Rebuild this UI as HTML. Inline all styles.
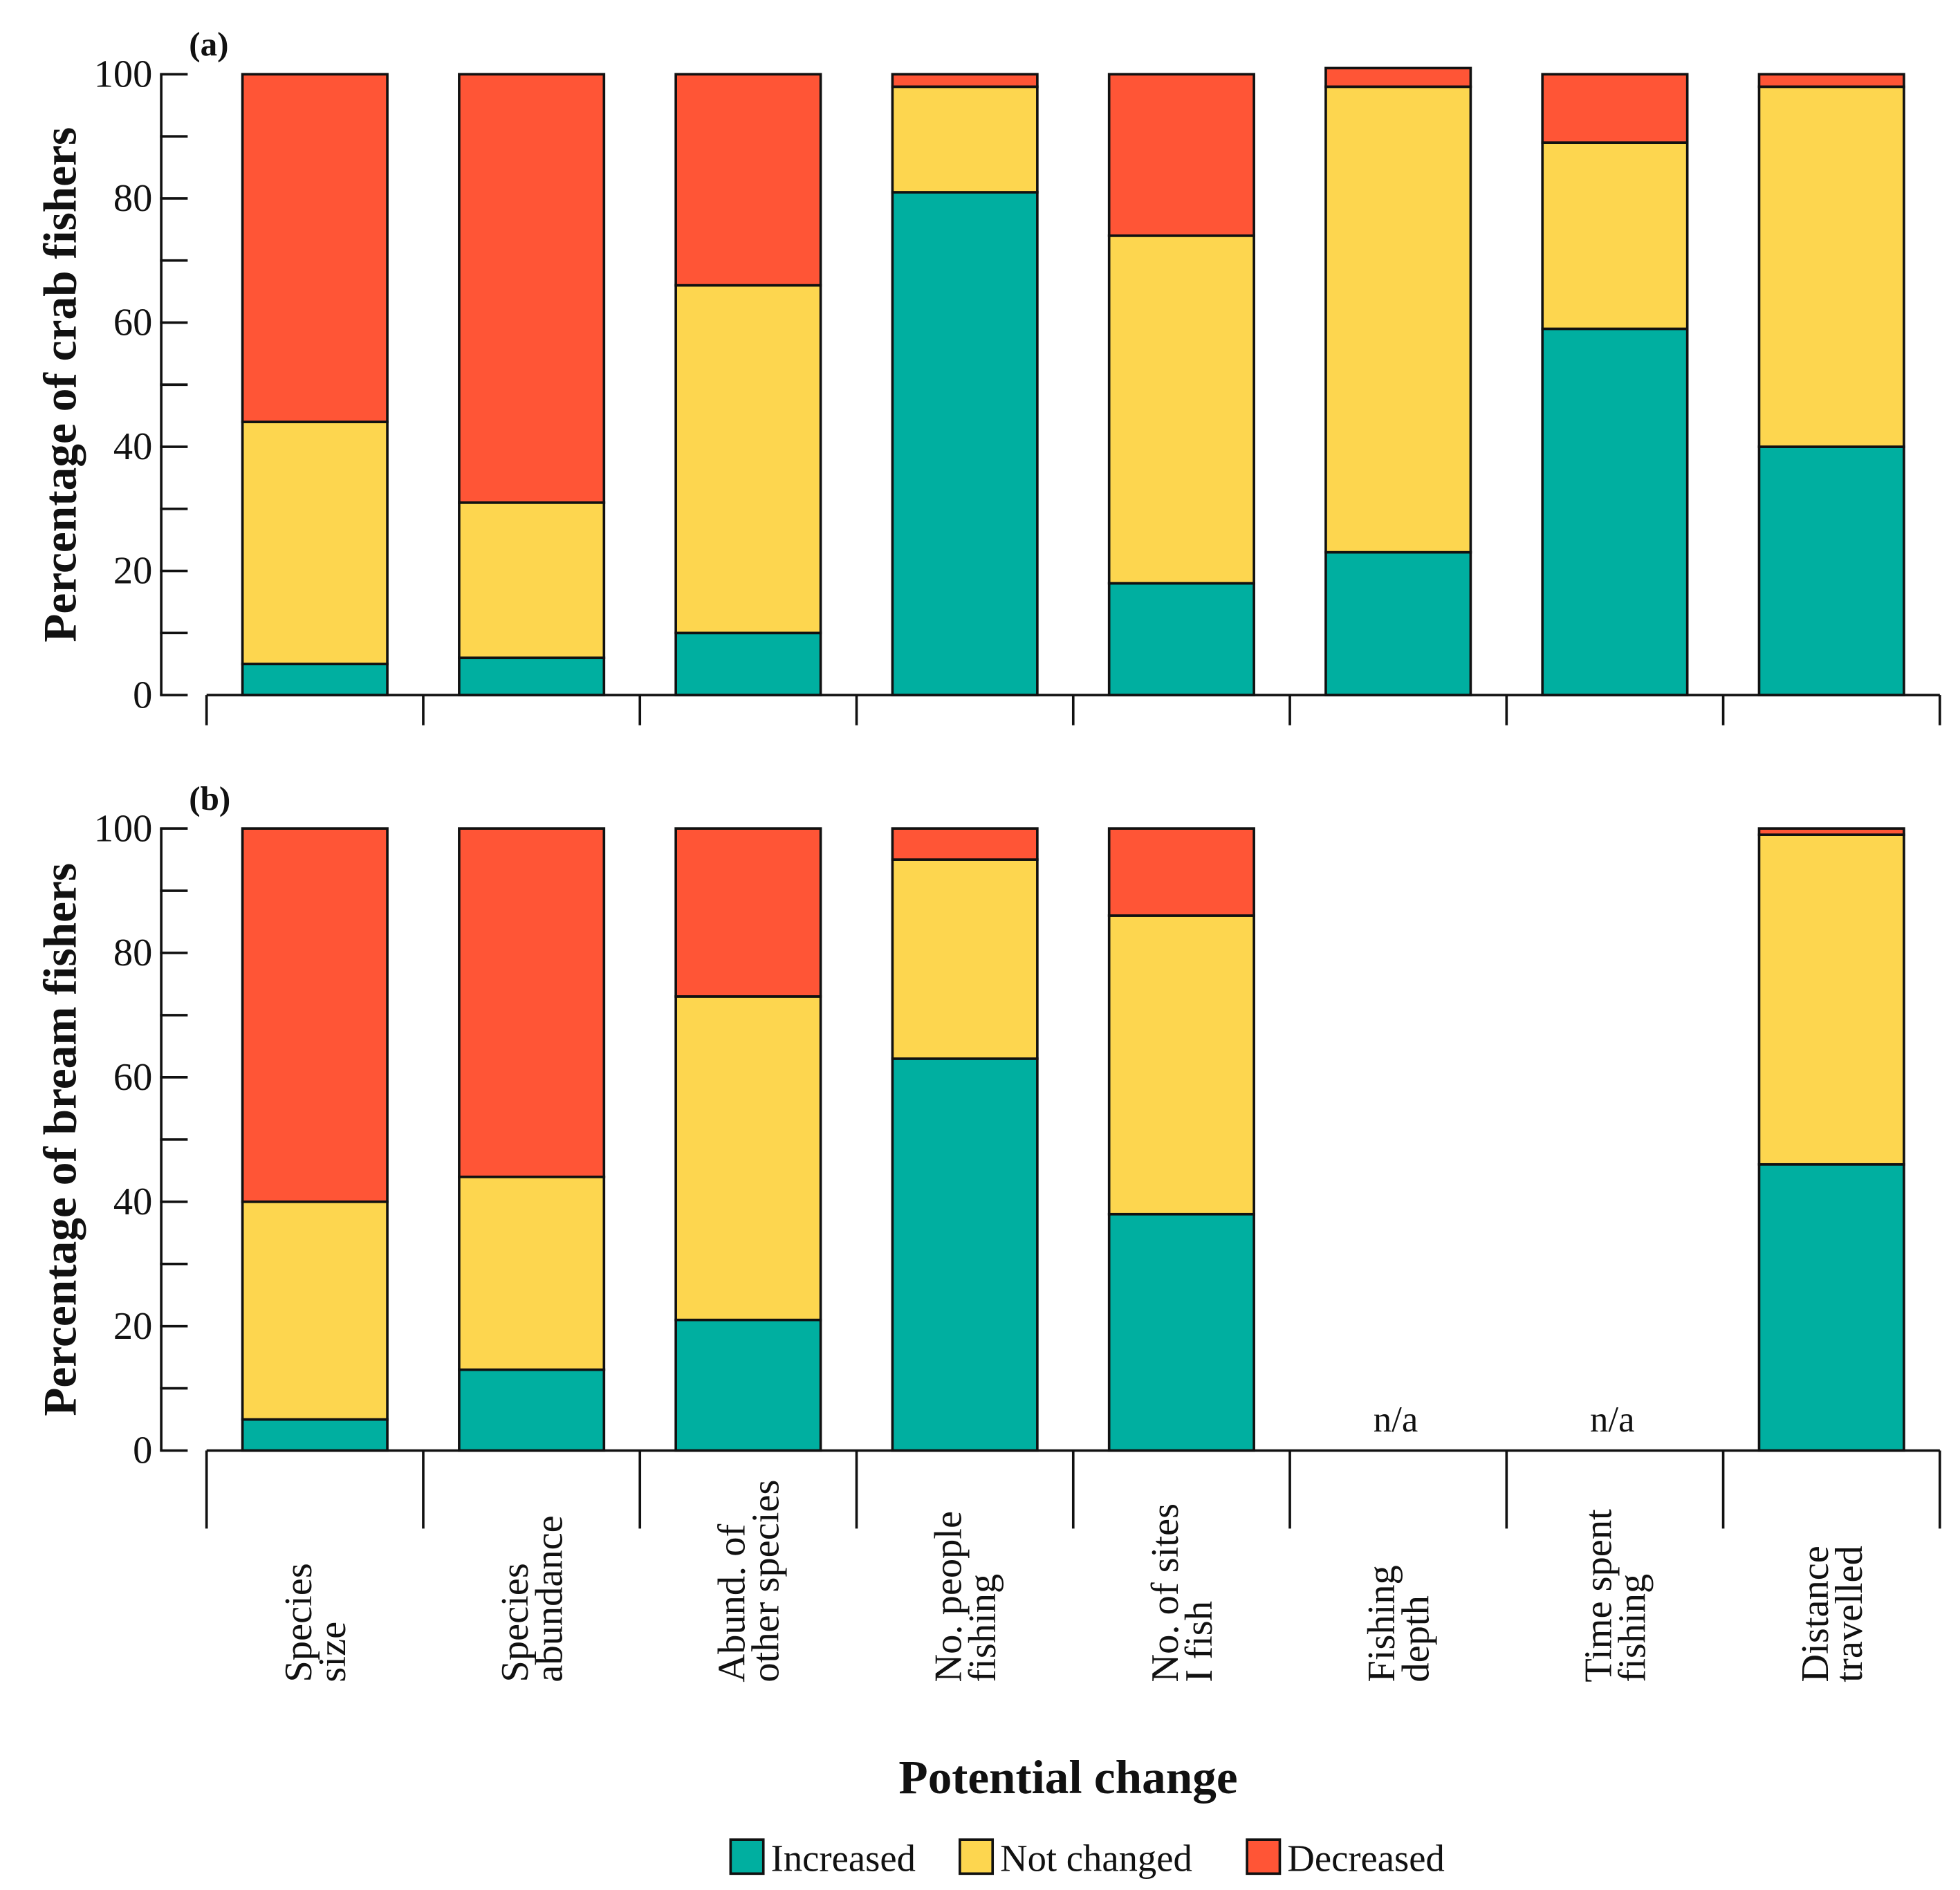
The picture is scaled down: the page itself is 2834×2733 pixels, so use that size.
<!DOCTYPE html>
<html><head><meta charset="utf-8"><style>
html,body{margin:0;padding:0;background:#fff}
svg{display:block}
text{font-family:"Liberation Serif",serif;fill:#111}
</style></head><body>
<svg id="chart" width="2834" height="2733" viewBox="0 0 1556 1501" preserveAspectRatio="none" xmlns="http://www.w3.org/2000/svg"></svg>
<script>
const categories = [["Species","size"],["Species","abundance"],["Abund. of","other species"],["No. people","fishing"],["No. of sites","I fish"],["Fishing","depth"],["Time spent","fishing"],["Distance","travelled"]];
const crabIncreased = [5,6,10,81,18,23,59,40];
const crabNotChanged = [39,25,56,17,56,75,30,58];
const crabDecreased = [56,69,34,2,26,3,11,2];
const breamIncreased = [5,13,21,63,38,null,null,46];
const breamNotChanged = [35,31,52,32,48,null,null,53];
const breamDecreased = [60,56,27,5,14,null,null,1];
const yTicks = [0,20,40,60,80,100];
const seriesNames = ["Increased","Not changed","Decreased"];
const colors = ["#00AFA0","#FDD64F","#FF5536"];

const NS="http://www.w3.org/2000/svg";
const svg=document.getElementById('chart');
function mk(tag,attrs,parent,text){const e=document.createElementNS(NS,tag);for(const k in attrs)e.setAttribute(k,attrs[k]);if(text!==undefined)e.textContent=text;(parent||svg).appendChild(e);return e;}
const xStart=164, step=172, barW=115;
function xCenter(i){return xStart+step/2+step*i;}

function panel(y0,y100,label,title,inc,nc,dec,tickBottom,pname){
  const g=mk('g',{});
  
  
  const ys=v=>y0-(y0-y100)*v/100;
  const ax=mk('line',{x1:128,y1:ys(0),x2:128,y2:ys(100),stroke:'#111','stroke-width':2},g);
  
  
  for(let v=0;v<=100;v+=10){mk('line',{x1:127,y1:ys(v),x2:149,y2:ys(v),stroke:'#111','stroke-width':2},g);}
  yTicks.forEach(v=>{const t=mk('text',{x:121,y:ys(v)+10,'text-anchor':'end','font-size':31},g,String(v));
    
    });
  const tt=mk('text',{x:0,y:0,'text-anchor':'middle','font-size':37,'font-weight':'bold',transform:`translate(60,${(ys(0)+ys(100))/2}) rotate(-90)`},g,title);
  
  
  const pl=mk('text',{x:150,y:y100-15,'font-size':27,'font-weight':'bold'},g,label);
  
  
  categories.forEach((c,i)=>{
    const cx=xCenter(i);
    if(inc[i]===null){
      const n=mk('text',{x:cx-2,y:ys(0)-15,'text-anchor':'middle','font-size':29},g,'n/a');
      
      
      return;
    }
    let base=0;
    [inc[i],nc[i],dec[i]].forEach((v,s)=>{
      const r=mk('rect',{x:cx-barW/2,y:ys(base+v),width:barW,height:ys(base)-ys(base+v),fill:colors[s],stroke:'#111','stroke-width':2},g);
      
      
      base+=v;
    });
  });
  const xa=mk('line',{x1:xStart,y1:y0,x2:xStart+step*8,y2:y0,stroke:'#111','stroke-width':2},g);
  
  
  for(let i=0;i<=8;i++)mk('line',{x1:xStart+step*i,y1:y0,x2:xStart+step*i,y2:tickBottom,stroke:'#111','stroke-width':2},g);
}
panel(552,59,'(a)','Percentage of crab fishers',crabIncreased,crabNotChanged,crabDecreased,576,'panel-a');
panel(1152,658,'(b)','Percentage of bream fishers',breamIncreased,breamNotChanged,breamDecreased,1214,'panel-b');

categories.forEach((c,i)=>{
  const cx=xCenter(i);
  c.forEach((line,j)=>{
    const t=mk('text',{x:0,y:0,'text-anchor':'start','font-size':31,transform:`translate(${cx-3+j*27},1336) rotate(-90)`},svg,line);
    
    
  });
});
const xt=mk('text',{x:848,y:1424,'text-anchor':'middle','font-size':38,'font-weight':'bold'},svg,'Potential change');


const legX=[580,762,990];
seriesNames.forEach((n,s)=>{
  const r=mk('rect',{x:legX[s],y:1461,width:26,height:27,fill:colors[s],stroke:'#111','stroke-width':2});
  
  
  const t=mk('text',{x:legX[s]+32,y:1486,'font-size':30},svg,n);
  
  
});
</script>
</body></html>
